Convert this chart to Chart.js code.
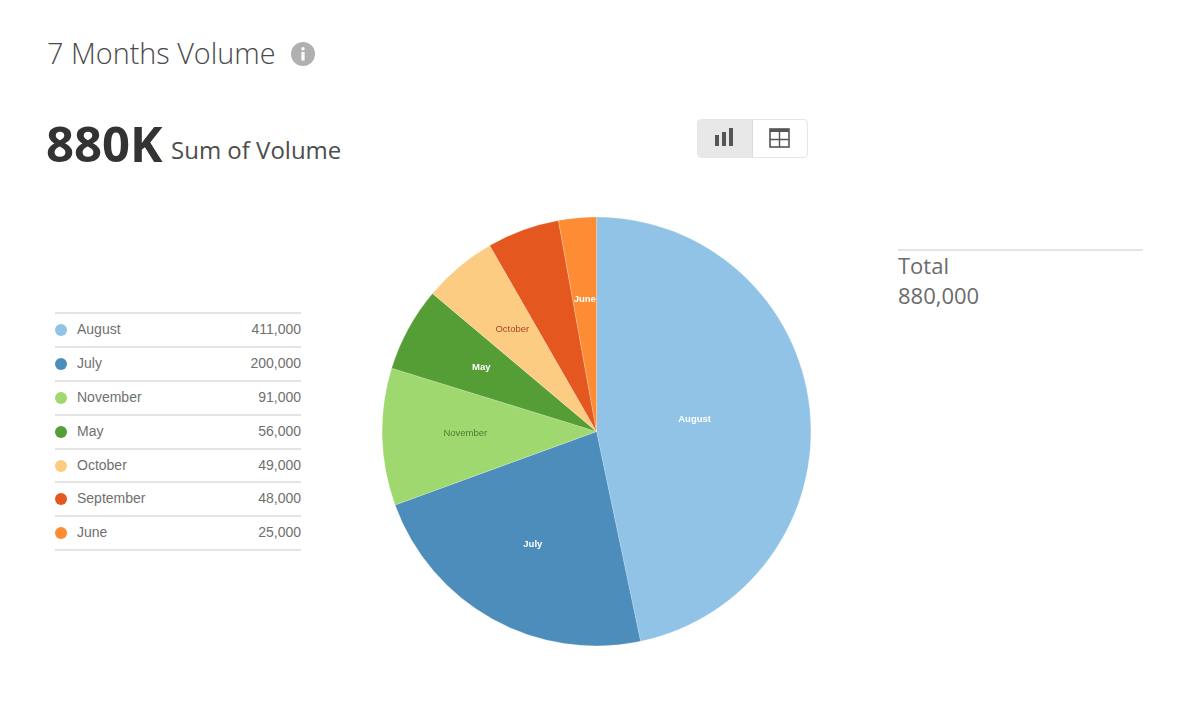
<!DOCTYPE html>
<html>
<head>
<meta charset="utf-8">
<title>7 Months Volume</title>
<script src="https://cdn.jsdelivr.net/npm/chart.js@4"></script>
<style>
html, body { margin: 0; padding: 0; background: #fff; }
body { width: 1200px; height: 711px; position: relative; overflow: hidden; font-family: "Open Sans", sans-serif; }
.abs { position: absolute; white-space: nowrap; }
#title { left: 47px; top: 33px; font-size: 28.8px; line-height: 40px; font-weight: 300; color: #4a4a4a; }
#info { left: 291px; top: 42px; width: 24px; height: 24px; }
#big { left: 46px; top: 112px; font-size: 49px; line-height: 62px; font-weight: 700; color: #333; }
#sub { left: 171px; top: 132px; font-size: 24px; line-height: 36px; color: #4d4d4d; }
#toggle { left: 697px; top: 119px; width: 109px; height: 37px; border: 1px solid #e6e6e6; border-radius: 4px; overflow: hidden; }
#toggle div { position: absolute; top: 0; height: 37px; }
#btnChart { left: 0; width: 54px; background: #e8e8e8; border-right: 1px solid #dcdcdc; }
#btnTable { left: 55px; width: 54px; }
#chartBox { left: 382px; top: 217px; width: 429px; height: 429px; }
#legend { left: 55px; top: 312px; width: 246px; border-top: 2px solid #e4e4e4; font-family: "Liberation Sans", Arial, sans-serif; font-size: 14px; color: #707070; }
#legend .row { position: relative; height: 31.9px; line-height: 31.4px; border-bottom: 2px solid #e4e4e4; }
#legend .dot { position: absolute; left: 0; top: 10px; width: 12px; height: 12px; border-radius: 50%; }
#legend .name { position: absolute; left: 22px; }
#legend .val { position: absolute; right: 0; }
#total { left: 898px; top: 249px; width: 245px; border-top: 2px solid #e4e4e4; font-size: 22px; line-height: 30px; color: #6b6b6b; }
#total div { margin-top: -1px; }
</style>
</head>
<body>
<div class="abs" id="title">7 Months Volume</div>
<svg class="abs" id="info" viewBox="0 0 24 24">
  <circle cx="12" cy="12" r="12" fill="#b0b0b0"/>
  <circle cx="12" cy="6.8" r="1.7" fill="#fff"/>
  <rect x="10.4" y="10" width="3.2" height="8.5" fill="#fff"/>
</svg>
<div class="abs" id="big">880K</div>
<div class="abs" id="sub">Sum of Volume</div>
<div class="abs" id="toggle">
  <div id="btnChart">
    <svg width="54" height="37" viewBox="0 0 54 37">
      <rect x="17" y="15" width="4" height="11" fill="#555"/>
      <rect x="24" y="12" width="4" height="14" fill="#555"/>
      <rect x="31" y="8" width="4" height="18" fill="#555"/>
    </svg>
  </div>
  <div id="btnTable">
    <svg width="54" height="37" viewBox="0 0 54 37">
      <rect x="17" y="9" width="19" height="18" fill="none" stroke="#555" stroke-width="1.6"/>
      <rect x="17" y="9" width="19" height="3" fill="#555"/>
      <line x1="17" y1="19.5" x2="36" y2="19.5" stroke="#555" stroke-width="1.4"/>
      <line x1="26.5" y1="12" x2="26.5" y2="27" stroke="#555" stroke-width="1.4"/>
    </svg>
  </div>
</div>
<div class="abs" id="legend"></div>
<div class="abs" id="chartBox"><canvas id="pie" width="429" height="429"></canvas></div>
<div class="abs" id="total"><div>Total<br><span id="totalVal"></span></div></div>
<script>
var months = ['August', 'July', 'November', 'May', 'October', 'September', 'June'];
var volumes = [411000, 200000, 91000, 56000, 49000, 48000, 25000];
var sliceColors = ['#90c3e5', '#4d8dbc', '#a0d870', '#559e35', '#fdcc83', '#e4571f', '#fd8c34'];
var labelColors = ['#ffffff', '#ffffff', '#4e7a34', '#ffffff', '#a8452a', '', '#ffffff'];
var labelBold = [true, true, false, true, false, false, true];

// slice names drawn on the pie, the biggest slice keeps its name closer to the middle
var sliceLabels = {
  id: 'sliceLabels',
  afterDatasetsDraw: function (chart) {
    var ctx = chart.ctx;
    var arcs = chart.getDatasetMeta(0).data;
    var sum = volumes.reduce(function (a, b) { return a + b; }, 0);
    ctx.save();
    ctx.textAlign = 'center';
    ctx.textBaseline = 'middle';
    arcs.forEach(function (arc, i) {
      if (!labelColors[i]) { return; }
      var mid = (arc.startAngle + arc.endAngle) / 2;
      var frac = volumes[i] / sum > 0.4 ? 0.46 : 0.612;
      ctx.font = (labelBold[i] ? 'bold ' : '') + '9.5px "Liberation Sans", Arial, sans-serif';
      ctx.fillStyle = labelColors[i];
      ctx.fillText(months[i], arc.x + Math.cos(mid) * arc.outerRadius * frac, arc.y + Math.sin(mid) * arc.outerRadius * frac - 1.5);
    });
    ctx.restore();
  }
};

new Chart(document.getElementById('pie').getContext('2d'), {
  type: 'pie',
  data: {
    labels: months,
    datasets: [{ data: volumes, backgroundColor: sliceColors, borderColor: '#ffffff', borderWidth: 0.2 }]
  },
  options: {
    responsive: false,
    animation: false,
    layout: { padding: 0 },
    plugins: { legend: { display: false }, tooltip: { enabled: false } }
  },
  plugins: [sliceLabels]
});

var legendHtml = '';
months.forEach(function (m, i) {
  legendHtml += '<div class="row"><span class="dot" style="background:' + sliceColors[i] + '"></span>' +
    '<span class="name">' + m + '</span><span class="val">' + volumes[i].toLocaleString('en-US') + '</span></div>';
});
document.getElementById('legend').innerHTML = legendHtml;
document.getElementById('totalVal').textContent = volumes.reduce(function (a, b) { return a + b; }, 0).toLocaleString('en-US');
</script>
</body>
</html>
